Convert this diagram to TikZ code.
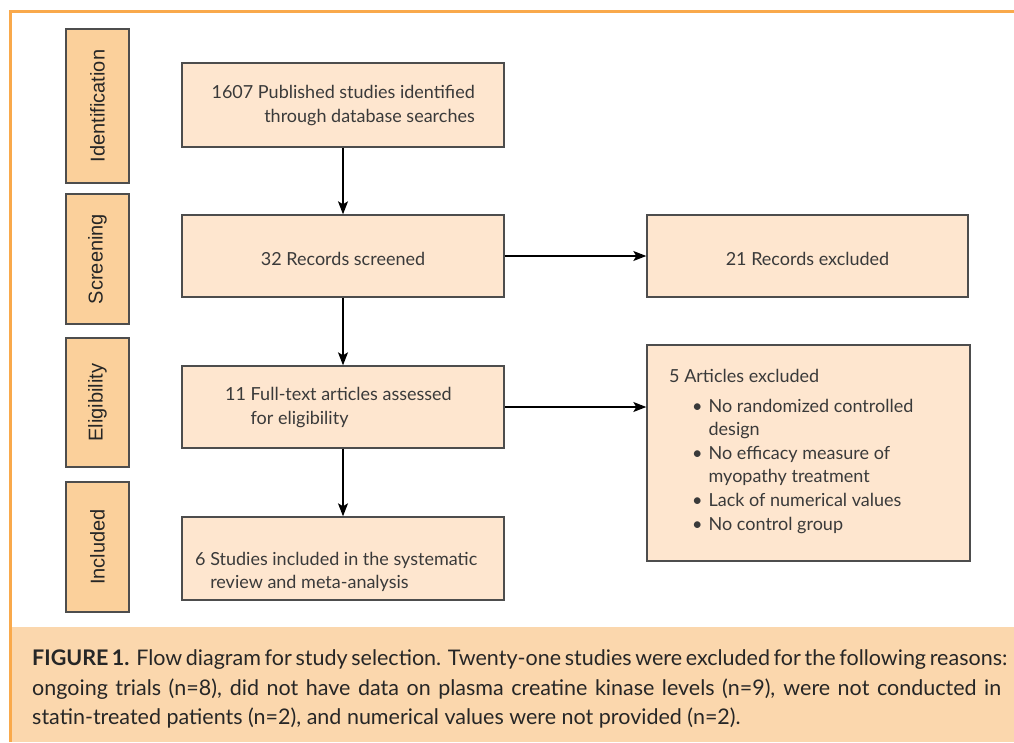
\documentclass[tikz,border=0pt]{standalone}
\usepackage{fontspec}
\setmainfont{Lato}
\newfontfamily\labfont{Liberation Sans}
\usetikzlibrary{arrows.meta}
\definecolor{frameor}{HTML}{F9A94B}
\definecolor{labfill}{HTML}{FBD09B}
\definecolor{boxfill}{HTML}{FEE6CF}
\definecolor{capfill}{HTML}{FBD7AD}
\definecolor{edge}{HTML}{4D4D4D}
\definecolor{txt}{HTML}{3A3A3A}
\begin{document}
\begin{tikzpicture}[x=1pt,y=-1pt,
  stage/.style={draw=edge, line width=1.4pt, fill=labfill, inner sep=0pt, minimum height=63pt,
    text=black!85, font=\labfont\fontsize{20}{22}\selectfont},
  flowbox/.style={draw=edge, line width=1.4pt, fill=boxfill, inner sep=0pt},
  btext/.style={inner sep=0pt, text=txt, font=\fontsize{18}{24}\selectfont},
  captext/.style={inner sep=0pt, anchor=base west, text=black!85, font=\fontsize{21.5}{24}\selectfont},
  flow/.style={line width=1.2pt, black, -{Stealth[length=13pt,width=10pt,inset=3pt]}}
]
\useasboundingbox (0,0) rectangle (1014,742);
% caption band
\fill[capfill] (10,627) rectangle (1014,742);
% frame
\draw[frameor, line width=3pt] (10,742) -- (10,11) -- (1014,11);

% stage labels
\node[stage, minimum width=154pt, rotate=90] (sId) at (97.5,106) {Identification};
\node[stage, minimum width=130pt, rotate=90] (sSc) at (97.5,259) {Screening};
\node[stage, minimum width=129pt, rotate=90] (sEl) at (97.5,402.5) {Eligibility};
\node[stage, minimum width=130pt, rotate=90] (sIn) at (97.5,547) {Included};

% main boxes
\node[flowbox, minimum width=322pt, minimum height=84pt] (b1) at (343,105) {};
\node[flowbox, minimum width=322pt, minimum height=82pt] (b2) at (343,256) {};
\node[flowbox, minimum width=322pt, minimum height=82pt] (b3) at (343,407) {};
\node[flowbox, minimum width=322pt, minimum height=83pt] (b4) at (343,558.5) {};
\node[flowbox, minimum width=321pt, minimum height=82pt] (r1) at (807.5,256) {};
\node[flowbox, minimum width=323pt, minimum height=216pt] (r2) at (808.5,453) {};

% texts
\node[btext, anchor=base east] (t1a) at (475,98) {1607 Published studies identified};
\node[btext, anchor=base east] (t1b) at (475,122) {through database searches};
\node[btext, anchor=base] (t2) at (343,265) {32 Records screened};
\node[btext, anchor=base west] (t3) at (225,400) {\begin{tabular}[t]{@{}l@{\ }l@{}}11 & Full-text articles assessed\\ & for eligibility\end{tabular}};
\node[btext, anchor=base west, font=\fontsize{18}{23}\selectfont] (t4) at (195,565) {\begin{tabular}[t]{@{}l@{\ }l@{}}6 & Studies included in the systematic\\ & review and meta-analysis\end{tabular}};
\node[btext, anchor=base] (tr1) at (807.5,265) {21 Records excluded};
\node[btext, anchor=base west] (tr2) at (669,382) {5 Articles excluded};
\node[btext, anchor=base west, font=\fontsize{18}{23.6}\selectfont] (tr2l) at (692,412) {\begin{tabular}[t]{@{}l@{\hspace{6pt}}l@{}}
\textbullet & No randomized controlled\\
 & design\\
\textbullet & No efficacy measure of\\
 & myopathy treatment\\
\textbullet & Lack of numerical values\\
\textbullet & No control group\end{tabular}};

% connectors
\draw[flow] (b1) -- (b2);
\draw[flow] (b2) -- (b3);
\draw[flow] (b3) -- (b4);
\draw[flow] (b2) -- (r1);
\draw[flow] (b3.east) -- (b3.east -| r2.west);

% caption
\node[captext] (c1) at (32,665) {\makebox[969pt][s]{\textbf{FIGURE 1.} Flow diagram for study selection. Twenty-one studies were excluded for the following reasons:}};
\node[captext] (c2) at (32,695) {\makebox[969pt][s]{ongoing trials (n=8), did not have data on plasma creatine kinase levels (n=9), were not conducted in}};
\node[captext] (c3) at (32,724) {statin-treated patients (n=2), and numerical values were not provided (n=2).};
\end{tikzpicture}
\end{document}
